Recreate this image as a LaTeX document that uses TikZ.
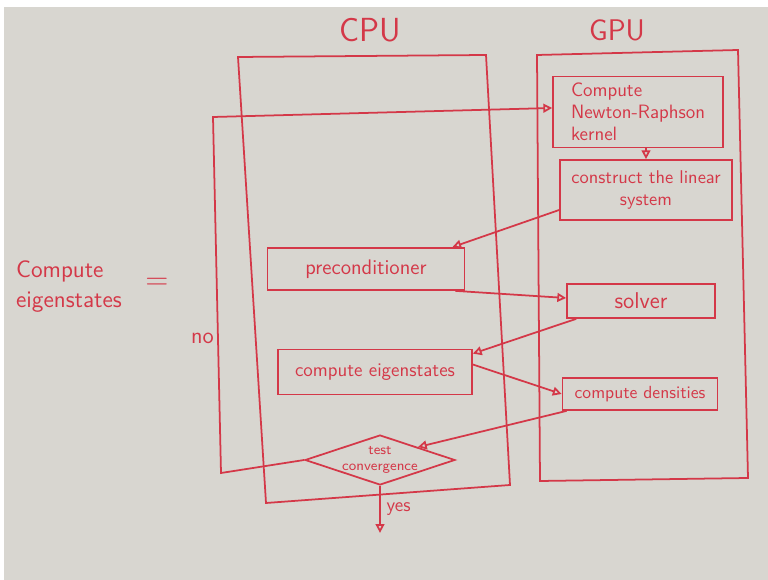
\documentclass[tikz,border=0pt]{standalone}
\usepackage{xcolor}
\usepackage{tikz}
\usetikzlibrary{shapes.geometric}
\usetikzlibrary{arrows.meta}
\definecolor{ink}{RGB}{212,56,72}
\definecolor{paper}{RGB}{216,214,208}

\begin{document}
\begin{tikzpicture}[x=0.02cm,y=-0.02cm]
  \tikzstyle{pen}=[draw=ink, line width=1pt] % everything is drawn with the red pen
  \tikzstyle{hand}=[text=ink, font=\sffamily] % written words
  \tikzstyle{box}=[pen, hand, rectangle, inner sep=2pt] % one step of the loop
  \tikzstyle{decision}=[pen, diamond, aspect=3, minimum width=3cm, minimum height=1cm, inner sep=0pt]
  \tikzstyle{arr}=[pen, -{Triangle[open,length=5pt,width=5pt]}]
  % the sheet of paper
  \fill[white] (0,0) rectangle (768,580);
  \fill[paper] (4,7) rectangle (768,580);
  \useasboundingbox (0,0) rectangle (768,580);
  % the two devices
  \node[hand, font=\sffamily\fontsize{19}{20}\selectfont] (cpulbl) at (370,30) {CPU};
  \node[hand, font=\sffamily\fontsize{17}{20}\selectfont] (gpulbl) at (617,30) {GPU};
  \draw[pen] (238,57) -- (486,55) -- (510,485) -- (266,503) -- cycle;
  \draw[pen] (537,55) -- (738,50) -- (748,478) -- (540,481) -- cycle;
  % what is computed
  \node[hand, align=left, font=\sffamily\fontsize{13.5}{17}\selectfont] (title) at (69,287) {Compute\\eigenstates};
  \node[hand, font=\sffamily\fontsize{18}{20}\selectfont] (eq) at (157,284) {=};
  % steps on the GPU
  \node[box, minimum width=3.4cm, minimum height=1.42cm, align=left, font=\sffamily\fontsize{11}{12.5}\selectfont] (nr) at (638,112) {Compute\\Newton-Raphson\\kernel};
  \node[box, minimum width=3.44cm, minimum height=1.2cm, align=center, font=\sffamily\fontsize{10.5}{13}\selectfont] (cls) at (646,190) {construct the linear\\system};
  \node[box, minimum width=2.96cm, minimum height=0.68cm, font=\sffamily\fontsize{13}{14}\selectfont] (solver) at (641,301) {solver};
  \node[box, minimum width=3.1cm, minimum height=0.64cm, font=\sffamily\fontsize{10}{12}\selectfont] (dens) at (640,394) {compute densities};
  % steps on the CPU
  \node[box, minimum width=3.94cm, minimum height=0.84cm, font=\sffamily\fontsize{12}{14}\selectfont] (pre) at (366,269) {preconditioner};
  \node[box, minimum width=3.88cm, minimum height=0.9cm, font=\sffamily\fontsize{11}{13}\selectfont] (eig) at (375,372) {compute eigenstates};
  \node[decision, label={[hand, align=center, font=\sffamily\fontsize{8}{9}\selectfont]center:test\\convergence}] (conv) at (380,460) {};
  % the flow
  \draw[arr] (cls.north |- nr.south) -- (cls.north);
  \draw[arr] ([yshift=-0.4cm]cls.west) -- ([xshift=-0.26cm]pre.north east);
  \draw[arr] ([xshift=-0.2cm]pre.south east) -- ([yshift=0.06cm]solver.west);
  \draw[arr] ([xshift=0.2cm]solver.south west) -- ([yshift=-0.1cm]eig.north east);
  \draw[arr] ([yshift=0.15cm]eig.east) -- (dens.west);
  \draw[arr] ([xshift=0.1cm]dens.south west) -- (conv.north east);
  \coordinate (nobot) at (221,473);
  \coordinate (notop) at (213,117);
  \draw[arr] (conv.west) -- (nobot) -- (notop) -- ([yshift=0.08cm]nr.west);
  \node[hand, anchor=east, inner sep=1pt, font=\sffamily\fontsize{13}{14}\selectfont] (nolbl) at (216,338) {no};
  \coordinate (done) at ([yshift=-0.94cm]conv.south);
  \draw[arr] (conv.south) -- (done) node[hand, midway, right, font=\sffamily\fontsize{11}{12}\selectfont] {yes};
\end{tikzpicture}
\end{document}
